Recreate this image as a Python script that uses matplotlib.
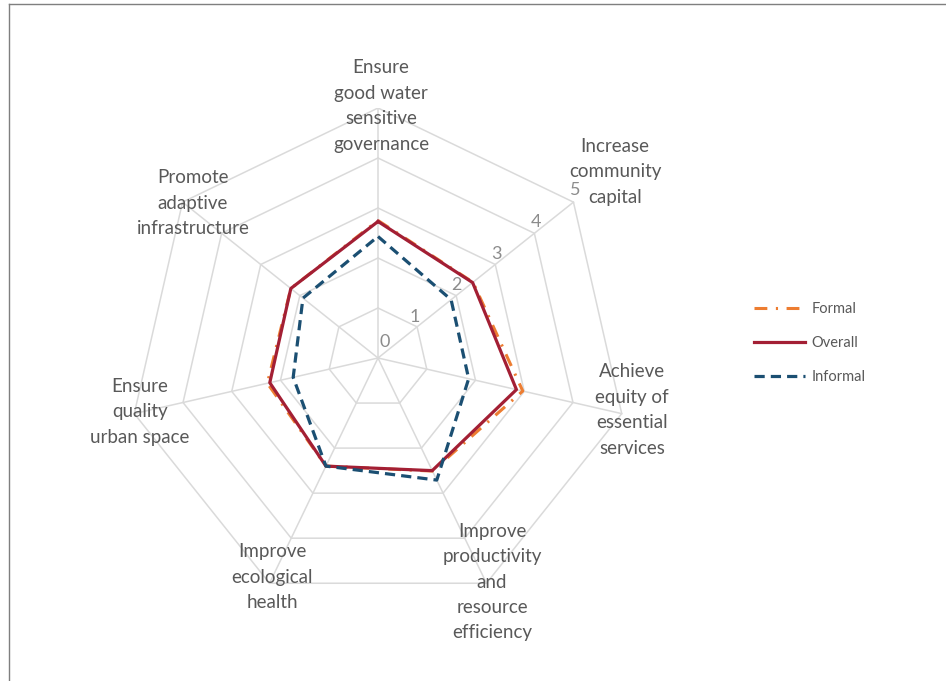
import numpy as np
import matplotlib
matplotlib.use("Agg")
import matplotlib.pyplot as plt
from matplotlib.lines import Line2D

plt.rcParams['font.family'] = ['Lato', 'DejaVu Sans']

# ---- data ----
categories = [
    "Ensure\ngood water\nsensitive\ngovernance",
    "Increase\ncommunity\ncapital",
    "Achieve\nequity of\nessential\nservices",
    "Improve\nproductivity\nand\nresource\nefficiency",
    "Improve\necological\nhealth",
    "Ensure\nquality\nurban space",
    "Promote\nadaptive\ninfrastructure",
]
formal = [2.75, 2.43, 2.97, 2.51, 2.40, 2.27, 2.23]
overall = [2.73, 2.42, 2.84, 2.50, 2.40, 2.22, 2.23]
informal = [2.43, 1.87, 1.86, 2.71, 2.40, 1.74, 1.92]
series_names = ["Formal", "Overall", "Informal"]
ring_values = [0, 1, 2, 3, 4, 5]

W, H = 946, 681
fig = plt.figure(figsize=(W / 100, H / 100), dpi=100)

cx, cy, R = 378, 358, 250  # pixel centre and outer radius
ax = fig.add_axes([(cx - R) / W, (H - cy - R) / H, 2 * R / W, 2 * R / H])
ax.set_xlim(-5, 5)
ax.set_ylim(-5, 5)
ax.axis('off')

n = len(categories)
theta = 2 * np.pi * np.arange(n) / n


def xy(vals):
    v = np.asarray(vals, dtype=float)
    t = np.append(theta, theta[0])
    v = np.append(v, v[0])
    return v * np.sin(t), v * np.cos(t)


grid_c = '#dadada'
for r in ring_values[1:]:
    gx, gy = xy([r] * n)
    ax.plot(gx, gy, color=grid_c, lw=1.1, zorder=1)
for t in theta:
    ax.plot([0, 5 * np.sin(t)], [0, 5 * np.cos(t)], color=grid_c, lw=1.1, zorder=1)

styles = {
    "Formal": dict(color='#ED7D31', lw=2.2, ls=(0, (4.2, 2.8, 0.7, 2.8)), dash_capstyle='butt'),
    "Overall": dict(color='#A31F34', lw=2.3, ls='-'),
    "Informal": dict(color='#1B4F72', lw=2.3, ls=(0, (3.2, 1.9)), dash_capstyle='butt'),
}
for name, vals, z in zip(series_names, [formal, overall, informal], [3, 4, 5]):
    px, py = xy(vals)
    ax.plot(px, py, label=name, zorder=z, **styles[name])

# radial value labels along the second spoke
t1 = theta[1]
offs = [(7, 16), (-2, 10), (0, 11), (1, 10), (2, 11), (2, 12)]
for r, (ox, oy) in zip(ring_values, offs):
    ax.annotate(str(r), (r * np.sin(t1), r * np.cos(t1)), xytext=(ox, oy),
                textcoords='offset pixels', ha='center', va='center',
                fontsize=13, color='#8c8c8c', zorder=6)

# category labels (pixel centre positions)
label_pos = [(381, 106), (615, 172), (632, 410), (492, 582), (272, 577), (140, 412), (193, 203)]
for lab, (lx, ly) in zip(categories, label_pos):
    fig.text(lx / W, 1 - ly / H, lab, ha='center', va='center', fontsize=13.5,
             color='#595959', linespacing=1.6)

handles, labels = ax.get_legend_handles_labels()
leg = fig.legend(handles, labels, loc='center left',
                 bbox_to_anchor=(741 / W, 1 - 343 / H), frameon=False,
                 fontsize=10.5, handlelength=3.5, labelspacing=1.35,
                 handletextpad=0.45)
for t in leg.get_texts():
    t.set_color('#595959')

# frame border
fig.add_artist(Line2D([8.5 / W, 8.5 / W], [0, 1 - 3.5 / H], color='#7f7f7f', lw=1.0,
                      transform=fig.transFigure))
fig.add_artist(Line2D([8.5 / W, 1], [1 - 3.5 / H, 1 - 3.5 / H], color='#7f7f7f', lw=1.0,
                      transform=fig.transFigure))

fig.savefig('out.png', dpi=100)
